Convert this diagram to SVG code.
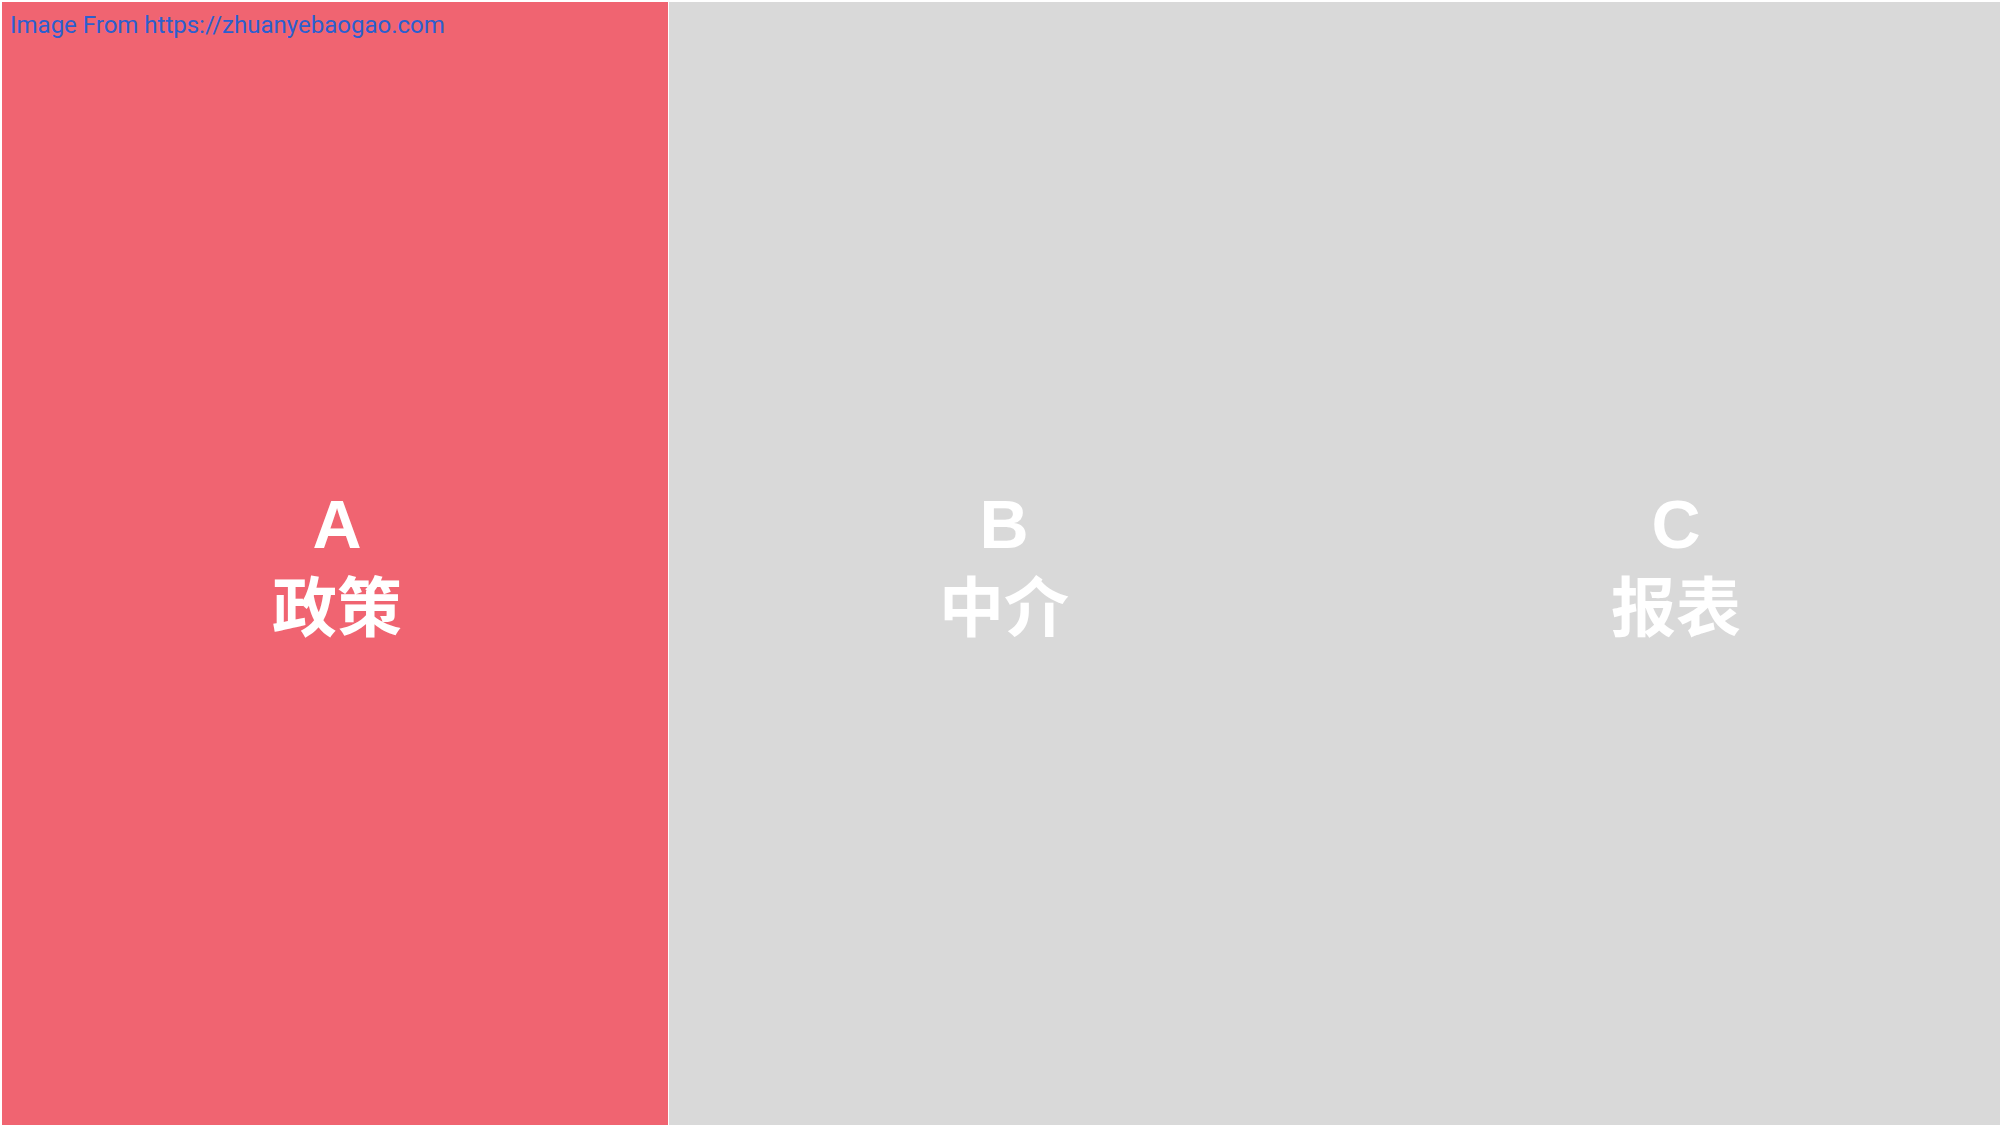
<svg xmlns="http://www.w3.org/2000/svg" width="2000" height="1125" viewBox="0 0 2000 1125">
<style>
.lbl{font-family:"Liberation Sans","Noto Sans CJK SC",Arial,sans-serif;font-weight:bold;fill:#ffffff;text-anchor:middle}
.big{font-size:68px}
.cjk{font-size:65px;font-family:"Noto Sans CJK SC",sans-serif;font-weight:bold}
.wm{font-family:Roboto,"Liberation Sans",sans-serif;font-size:24px;fill:#2B5FD0}
</style>
<rect x="0" y="0" width="2000" height="1125" fill="#ffffff"/>
<g id="nodeA">
<rect x="2" y="2" width="666" height="1123" fill="#F06471"/>
<text class="lbl big" x="337" y="548">A</text>
<text class="lbl cjk" x="337" y="631">政策</text>
</g>
<g id="nodeB">
<rect x="669" y="2" width="1331" height="1123" fill="#D9D9D9"/>
<text class="lbl big" x="1004" y="548">B</text>
<text class="lbl cjk" x="1004" y="631">中介</text>
</g>
<g id="nodeC">
<text class="lbl big" x="1676" y="548">C</text>
<text class="lbl cjk" x="1676" y="631">报表</text>
</g>
<g id="connectors"></g>
<text class="wm" x="10" y="33">Image From https://zhuanyebaogao.com</text>
</svg>
